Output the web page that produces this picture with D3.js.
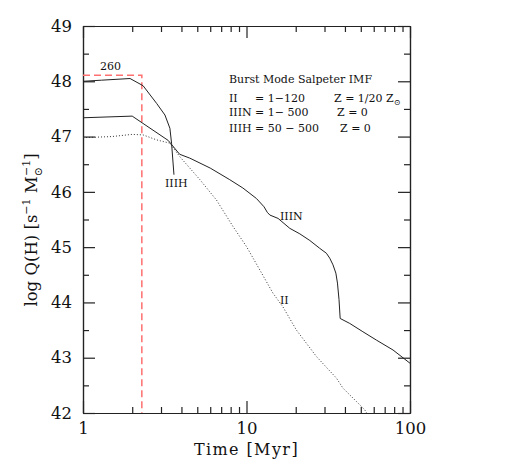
<!DOCTYPE html>
<html>
<head>
<meta charset="utf-8">
<script src="https://cdn.jsdelivr.net/npm/d3@7"></script>
<style>
body { margin: 0; background: #fff; }
text { font-family: "DejaVu Serif", serif; fill: #111; }
</style>
</head>
<body>
<script>
var w = 528,
h = 463,
margin = {left: 83, right: 118, top: 26, bottom: 50},
fontFamily = "DejaVu Serif",
lineColor = "#222",
cutColor = "#ff7070";

// axis ticks
var xMajor = [1, 10, 100],
xMinor = [2, 3, 4, 5, 6, 7, 8, 9, 20, 30, 40, 50, 60, 70, 80, 90],
yMajor = [42, 43, 44, 45, 46, 47, 48, 49],
yMinor = [42.5, 43.5, 44.5, 45.5, 46.5, 47.5, 48.5];

// IIIH : 50 - 500, Z = 0   (time Myr, log Q)
var iiihTime = [1, 1.3, 1.94, 2.33, 2.82, 3.17, 3.40, 3.48, 3.6],
iiihLogQ = [48.0, 48.02, 48.05, 47.92, 47.60, 47.39, 47.15, 46.88, 46.31];

// IIIN : 1 - 500, Z = 0
var iiinTime = [1, 2, 3.32, 3.9, 4.5, 6, 7.9, 9.5, 11.5, 12.8, 13.4, 13.9, 15.6, 18.4, 21.2, 24.4, 28, 30.8, 32.3, 33.8, 35.2, 36.0, 36.8, 37.4, 42.8, 51.5, 62.2, 78.7, 100],
iiinLogQ = [47.34, 47.37, 46.93, 46.68, 46.61, 46.43, 46.22, 46.07, 45.88, 45.73, 45.63, 45.58, 45.52, 45.34, 45.24, 45.12, 44.98, 44.89, 44.80, 44.68, 44.53, 44.35, 44.05, 43.71, 43.62, 43.47, 43.32, 43.14, 42.90];

// II : 1 - 120, Z = 1/20 Zsun
var iiTime = [1, 1.5, 2.0, 2.33, 2.82, 3.4, 3.9, 5.19, 6.56, 8.28, 10, 12.05, 14.5, 16.7, 20.2, 26.8, 35.5, 38.9, 52.8, 54.3],
iiLogQ = [46.98, 47.0, 47.04, 47.03, 46.94, 46.88, 46.64, 46.22, 45.85, 45.37, 45.01, 44.59, 44.17, 43.92, 43.50, 43.02, 42.63, 42.45, 42.06, 42.0];

// IIIH lifetime cut (260 Msun)
var cutTime = [1, 2.29, 2.29],
cutLogQ = [48.11, 48.11, 42];

var x = d3.scaleLog().domain([1, 100]).range([margin.left, w - margin.right]),
y = d3.scaleLinear().domain([42, 49]).range([h - margin.bottom, margin.top]);

var svg = d3.select("body").append("svg")
.attr("width", w)
.attr("height", h);

function zip(a, b) {
    return a.map(function(v, i) { return [v, b[i]]; });
}

var line = d3.line()
.x(function(d) { return x(d[0]); })
.y(function(d) { return y(d[1]); });

// axes: major ticks with labels, minor without, all pointing in
function styleAxis(g) {
    g.select(".domain").attr("stroke", lineColor).attr("stroke-width", 1.2);
    g.selectAll(".tick line").attr("stroke", lineColor).attr("stroke-width", 1.2);
    g.selectAll("text").attr("font-family", fontFamily).attr("font-size", 16.5).attr("fill", "#222");
}

svg.append("g")
.attr("transform", "translate(0," + y.range()[0] + ")")
.call(d3.axisBottom(x).tickValues(xMajor).tickFormat(d3.format("d")).tickSize(-12).tickSizeOuter(0).tickPadding(9))
.call(styleAxis);
svg.append("g")
.attr("transform", "translate(0," + y.range()[0] + ")")
.call(d3.axisBottom(x).tickValues(xMinor).tickFormat("").tickSize(-6).tickSizeOuter(0))
.call(styleAxis);
svg.append("g")
.attr("transform", "translate(0," + y.range()[1] + ")")
.call(d3.axisTop(x).tickValues(xMajor).tickFormat("").tickSize(-12).tickSizeOuter(0))
.call(styleAxis);
svg.append("g")
.attr("transform", "translate(0," + y.range()[1] + ")")
.call(d3.axisTop(x).tickValues(xMinor).tickFormat("").tickSize(-6).tickSizeOuter(0))
.call(styleAxis);

svg.append("g")
.attr("transform", "translate(" + x.range()[0] + ",0)")
.call(d3.axisLeft(y).tickValues(yMajor).tickFormat(d3.format("d")).tickSize(-12).tickSizeOuter(0).tickPadding(11))
.call(styleAxis);
svg.append("g")
.attr("transform", "translate(" + x.range()[0] + ",0)")
.call(d3.axisLeft(y).tickValues(yMinor).tickFormat("").tickSize(-6).tickSizeOuter(0))
.call(styleAxis);
svg.append("g")
.attr("transform", "translate(" + x.range()[1] + ",0)")
.call(d3.axisRight(y).tickValues(yMajor).tickFormat("").tickSize(-12).tickSizeOuter(0))
.call(styleAxis);
svg.append("g")
.attr("transform", "translate(" + x.range()[1] + ",0)")
.call(d3.axisRight(y).tickValues(yMinor).tickFormat("").tickSize(-6).tickSizeOuter(0))
.call(styleAxis);

// curves
svg.append("path")
.datum(zip(cutTime, cutLogQ))
.attr("d", line)
.attr("fill", "none")
.attr("stroke", cutColor)
.attr("stroke-width", 1.5)
.attr("stroke-dasharray", "7,4");

svg.append("path")
.datum(zip(iiTime, iiLogQ))
.attr("d", line)
.attr("fill", "none")
.attr("stroke", "#333")
.attr("stroke-width", 1)
.attr("stroke-dasharray", "1,2");

svg.append("path")
.datum(zip(iiinTime, iiinLogQ))
.attr("d", line)
.attr("fill", "none")
.attr("stroke", lineColor)
.attr("stroke-width", 1);

svg.append("path")
.datum(zip(iiihTime, iiihLogQ))
.attr("d", line)
.attr("fill", "none")
.attr("stroke", lineColor)
.attr("stroke-width", 1);

// curve labels
function label(txt, px, py, size) {
    return svg.append("text")
    .attr("x", px)
    .attr("y", py)
    .attr("font-size", size || 11)
    .text(txt);
}
label("260", 100, 70, 11).attr("font-family", "DejaVu Sans");
label("IIIH", 165, 187, 11);
label("IIIN", 280, 220, 11);
label("II", 280, 304, 11);

// legend block
label("Burst Mode Salpeter IMF", 229, 83, 11);
label("II", 229, 102);
label("= 1\u2212120", 255, 102);
var zl = label("Z = 1/20 Z", 334, 102);
zl.append("tspan").attr("font-size", 8).attr("dy", 3).text("\u2299");
label("IIIN", 229, 116);
label("= 1\u2212 500", 255, 116);
label("Z = 0", 337, 116);
label("IIIH", 229, 132);
label("= 50 \u2212 500", 255, 132);
label("Z = 0", 340, 132);

// axis titles
svg.append("text")
.attr("x", (x.range()[0] + x.range()[1]) / 2)
.attr("y", 455)
.attr("text-anchor", "middle")
.attr("font-size", 16)
.attr("letter-spacing", 1.4)
.text("Time [Myr]");

var yt = svg.append("text")
.attr("transform", "translate(37," + 230 + ") rotate(-90)")
.attr("text-anchor", "middle")
.attr("font-size", 16.5);
yt.append("tspan").text("log Q(H) [s");
yt.append("tspan").attr("font-size", 11).attr("dy", -7).text("\u22121");
yt.append("tspan").attr("dy", 7).text(" M");
yt.append("tspan").attr("font-size", 11).attr("dy", 5).text("\u2299");
yt.append("tspan").attr("font-size", 11).attr("dx", -9).attr("dy", -12).text("\u22121");
yt.append("tspan").attr("dy", 7).text("]");
</script>
</body>
</html>
